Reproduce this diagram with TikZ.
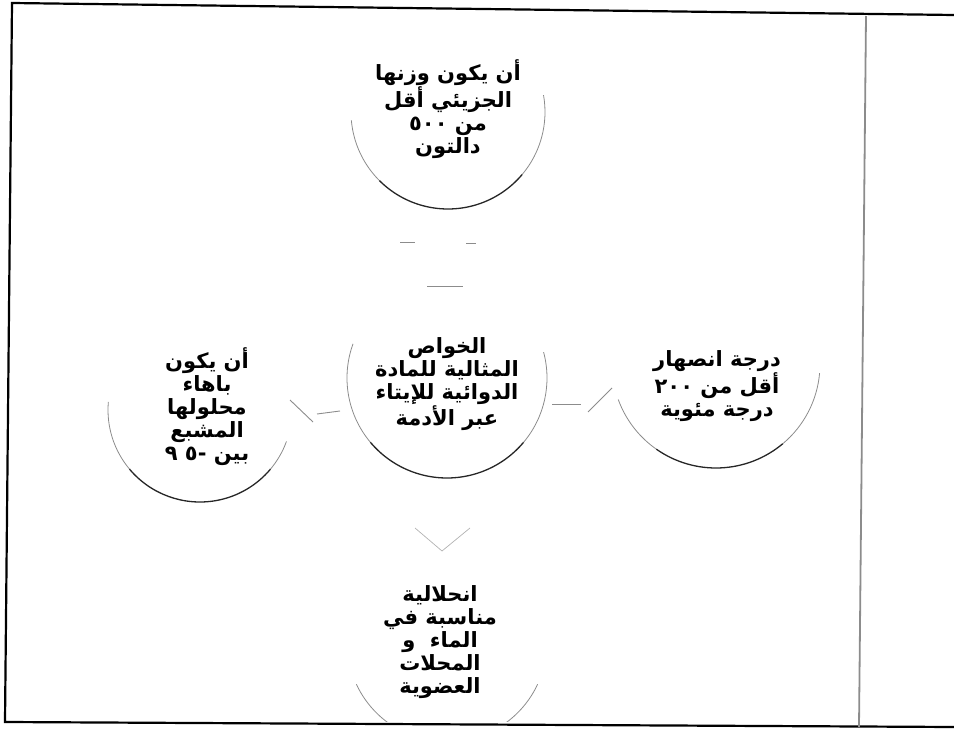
\documentclass[tikz,border=0pt]{standalone}
\usepackage{fontspec}
\TeXXeTstate=1
\newfontfamily\arabicfont[Script=Arabic]{DejaVu Sans}
\newcommand{\rl}[1]{\beginR #1\endR}
\newcommand{\lr}[1]{\beginL #1\endL{}}
\begin{document}
\begin{tikzpicture}[x=1pt,y=-1pt,
  lbl/.style={font=\arabicfont\bfseries\fontsize{21}{23}\selectfont, align=center, inner sep=0pt},
  arcdark/.style={draw=black!85, line width=1.3pt},
  arcfaint/.style={draw=black!45, line width=0.8pt},
  frag/.style={draw=black!45, line width=0.9pt},
  framel/.style={draw=black, line width=2.2pt}]
\useasboundingbox (0,0) rectangle (954,738);
% frame
\coordinate (tl) at (12,3);
\coordinate (tr) at (954,15);
\coordinate (bl) at (5,722);
\coordinate (br) at (954,727);
\draw[framel] (tr) -- (tl) -- (bl) -- (br);
\draw[draw=black!45, line width=1.8pt] (866,16) -- (859,727);

% circle centres
\coordinate (ct) at (448,112);
\coordinate (cc) at (447,378);
\coordinate (cl) at (200,410);
\coordinate (cr) at (716,364);
\coordinate (cb) at (447,642);

% (y axis points down: angle a below centre = +a)
% top circle r=97
\draw[arcfaint] (ct) ++(175:97) arc[start angle=175, end angle=135, radius=97];
\draw[arcdark] (ct) ++(135:97) arc[start angle=135, end angle=40, radius=97];
\draw[arcfaint] (ct) ++(40:97) arc[start angle=40, end angle=-10, radius=97];
% centre circle r=100
\draw[arcfaint] (cc) ++(200:100) arc[start angle=200, end angle=140, radius=100];
\draw[arcdark] (cc) ++(140:100) arc[start angle=140, end angle=40, radius=100];
\draw[arcfaint] (cc) ++(40:100) arc[start angle=40, end angle=-15, radius=100];
% left circle r=92
\draw[arcfaint] (cl) ++(185:92) arc[start angle=185, end angle=140, radius=92];
\draw[arcdark] (cl) ++(140:92) arc[start angle=140, end angle=40, radius=92];
\draw[arcfaint] (cl) ++(40:92) arc[start angle=40, end angle=20, radius=92];
% right circle r=104
\draw[arcfaint] (cr) ++(160:104) arc[start angle=160, end angle=125, radius=104];
\draw[arcdark] (cr) ++(125:104) arc[start angle=125, end angle=50, radius=104];
\draw[arcfaint] (cr) ++(50:104) arc[start angle=50, end angle=5, radius=104];
% bottom circle r=100 (cut by frame)
\begin{scope}
\clip (0,0) rectangle (954,721);
\draw[arcfaint] (cb) ++(155:100) arc[start angle=155, end angle=115, radius=100];
\draw[arcfaint] (cb) ++(65:100) arc[start angle=65, end angle=25, radius=100];
\end{scope}

% labels
\node[lbl] (top) at (448,109) {\rl{أن يكون وزنها}\\ \rl{الجزيئي أقل}\\ \rl{من \lr{٥٠٠}}\\ \rl{دالتون}};
\node[lbl] (mid) at (447,384) {\rl{الخواص}\\ \rl{المثالية للمادة}\\ \rl{الدوائية للإيتاء}\\ \rl{عبر الأدمة}};
\node[lbl] (left) at (207,407) {\rl{أن يكون}\\ \rl{باهاء}\\ \rl{محلولها}\\ \rl{المشبع}\\ \rl{بين \lr{٩ -٥}}};
\node[lbl] (right) at (717,386) {\rl{درجة انصهار}\\ \rl{أقل من \lr{٢٠٠}}\\ \rl{درجة مئوية}};
\node[lbl] (bot) at (440,642) {\rl{انحلالية}\\ \rl{مناسبة في}\\ \rl{الماء \ و}\\ \rl{المحلات}\\ \rl{العضوية}};

% faint arrow fragments
\coordinate (a1) at (400,242); \coordinate (a2) at (415,242);
\coordinate (a3) at (466,243); \coordinate (a4) at (476,243);
\coordinate (a5) at (427,286); \coordinate (a6) at (463,286);
\draw[frag] (a1) -- (a2);
\draw[frag] (a3) -- (a4);
\draw[frag] (a5) -- (a6);
\coordinate (l1) at (290,400); \coordinate (l2) at (313,422);
\coordinate (l3) at (317,414); \coordinate (l4) at (340,411);
\draw[frag] (l1) -- (l2);
\draw[frag] (l3) -- (l4);
\coordinate (r1) at (552,404); \coordinate (r2) at (581,404);
\coordinate (r3) at (588,412); \coordinate (r4) at (612,388);
\draw[frag] (r1) -- (r2);
\draw[frag] (r3) -- (r4);
\coordinate (v1) at (415,528); \coordinate (v2) at (442,551); \coordinate (v3) at (470,528);
\draw[draw=black!30, line width=0.7pt] (v1) -- (v2) -- (v3);
\end{tikzpicture}
\end{document}
